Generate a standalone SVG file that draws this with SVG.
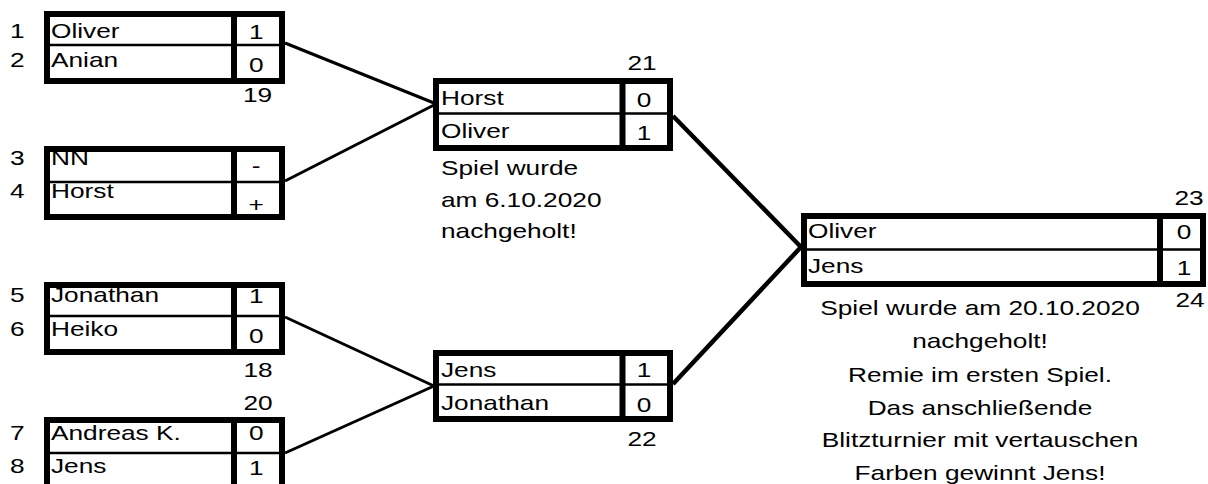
<svg xmlns="http://www.w3.org/2000/svg" width="1208" height="484" viewBox="0 0 1208 484">
<style>
text{font-family:"Liberation Sans",Arial,sans-serif;font-size:21px;fill:#000}
.c{text-anchor:middle}
.box{fill:#fff;stroke:#000;stroke-width:6}
.div{stroke:#000;stroke-width:6}
.mid{stroke:#000;stroke-width:2.5}
.con{stroke:#000;stroke-width:3;fill:none}
.con2{stroke:#000;stroke-width:4.5;fill:none}
</style>
<rect width="1208" height="484" fill="#fff"/>
<g id="connectors">
<line class="con" x1="285" y1="43" x2="434" y2="103"/>
<line class="con" x1="285" y1="181" x2="434" y2="105"/>
<line class="con" x1="285" y1="317" x2="434" y2="386"/>
<line class="con" x1="285" y1="453" x2="434" y2="386"/>
<line class="con2" x1="673" y1="116" x2="801" y2="247"/>
<line class="con2" x1="673" y1="384" x2="801" y2="247"/>
</g>
<g id="m1">
<rect class="box" x="47" y="14" width="235" height="67"/>
<line class="mid" x1="47" y1="45" x2="282" y2="45"/>
<line class="div" x1="234" y1="14" x2="234" y2="81"/>
<g transform="scale(1.25 1)">
<text x="8" y="38">1</text><text x="8" y="67">2</text>
<text x="40.8" y="38">Oliver</text><text x="40.8" y="67">Anian</text>
<text class="c" x="205" y="39">1</text><text class="c" x="205" y="72">0</text>
<text class="c" x="206" y="102">19</text>
</g>
</g>
<g id="m2">
<rect class="box" x="47" y="149" width="235" height="68"/>
<line class="mid" x1="47" y1="182" x2="282" y2="182"/>
<line class="div" x1="234" y1="149" x2="234" y2="217"/>
<g transform="scale(1.25 1)">
<text x="8" y="165">3</text><text x="8" y="198">4</text>
<text x="40.8" y="165">NN</text><text x="40.8" y="198">Horst</text>
<text class="c" x="205" y="173">-</text><text class="c" x="205" y="212">+</text>
</g>
</g>
<g id="m3">
<rect class="box" x="47" y="285" width="235" height="67"/>
<line class="mid" x1="47" y1="316" x2="282" y2="316"/>
<line class="div" x1="234" y1="285" x2="234" y2="352"/>
<g transform="scale(1.25 1)">
<text x="8" y="302">5</text><text x="8" y="336">6</text>
<text x="40.8" y="302">Jonathan</text><text x="40.8" y="336">Heiko</text>
<text class="c" x="205" y="303">1</text><text class="c" x="205" y="343">0</text>
<text class="c" x="206.4" y="377">18</text>
<text class="c" x="206.4" y="410">20</text>
</g>
</g>
<g id="m4">
<rect class="box" x="47" y="420" width="235" height="70"/>
<line class="mid" x1="47" y1="453" x2="282" y2="453"/>
<line class="div" x1="234" y1="420" x2="234" y2="490"/>
<g transform="scale(1.25 1)">
<text x="8" y="440">7</text><text x="8" y="473">8</text>
<text x="40.8" y="440">Andreas K.</text><text x="40.8" y="473">Jens</text>
<text class="c" x="205" y="440">0</text><text class="c" x="205" y="475">1</text>
</g>
</g>
<g id="m21">
<rect class="box" x="436" y="81" width="234" height="67"/>
<line class="mid" x1="436" y1="113.5" x2="670" y2="113.5"/>
<line class="div" x1="622.5" y1="81" x2="622.5" y2="148"/>
<g transform="scale(1.25 1)">
<text class="c" x="513.6" y="70">21</text>
<text x="352.8" y="105">Horst</text><text x="352.8" y="138">Oliver</text>
<text class="c" x="515.2" y="107">0</text><text class="c" x="515.2" y="140">1</text>
<text x="352.8" y="175">Spiel wurde</text>
<text x="352.8" y="207">am 6.10.2020</text>
<text x="352.8" y="238">nachgeholt!</text>
</g>
</g>
<g id="m22">
<rect class="box" x="436" y="353" width="234" height="66"/>
<line class="mid" x1="436" y1="384.5" x2="670" y2="384.5"/>
<line class="div" x1="622.5" y1="353" x2="622.5" y2="419"/>
<g transform="scale(1.25 1)">
<text x="352.8" y="377">Jens</text><text x="352.8" y="410">Jonathan</text>
<text class="c" x="515.2" y="377">1</text><text class="c" x="515.2" y="412">0</text>
<text class="c" x="513.6" y="446">22</text>
</g>
</g>
<g id="m23">
<rect class="box" x="804" y="216" width="399" height="68"/>
<line class="mid" x1="804" y1="249.5" x2="1203" y2="249.5"/>
<line class="div" x1="1160" y1="216" x2="1160" y2="284"/>
<g transform="scale(1.25 1)">
<text class="c" x="951.2" y="205">23</text>
<text x="646.4" y="238">Oliver</text><text x="646.4" y="273">Jens</text>
<text class="c" x="947.2" y="239">0</text><text class="c" x="947.2" y="275">1</text>
<text class="c" x="952" y="307">24</text>
<text class="c" x="784" y="315">Spiel wurde am 20.10.2020</text>
<text class="c" x="784" y="348">nachgeholt!</text>
<text class="c" x="784" y="382">Remie im ersten Spiel.</text>
<text class="c" x="784" y="415">Das anschließende</text>
<text class="c" x="784" y="447">Blitzturnier mit vertauschen</text>
<text class="c" x="784" y="480">Farben gewinnt Jens!</text>
</g>
</g>
</svg>
